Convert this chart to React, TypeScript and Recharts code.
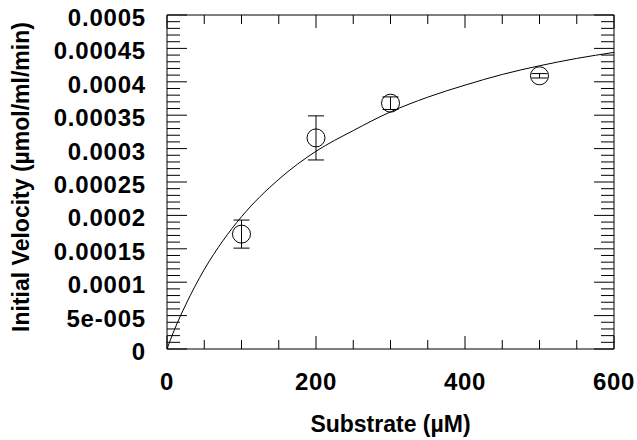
import React from "react";
import {
  ComposedChart,
  Line,
  Scatter,
  ErrorBar,
  XAxis,
  YAxis,
  ReferenceLine,
} from "recharts";

// measured points (mean +/- error)
const substrate = [100, 200, 300, 500];
const velocity = [0.000172, 0.000316, 0.000368, 0.000409];
const velocityErr = [0.000021, 0.000033, 0.0000094, 0.0000033];

// fitted curve
const fitSubstrate = [0, 10, 25, 50, 75, 100, 150, 200, 250, 300, 350, 400, 450, 500, 550, 600];
const fitVelocity = [
  0, 0.000029, 0.000066, 0.000119, 0.000162, 0.000198, 0.000254, 0.000296,
  0.000327, 0.000355, 0.000377, 0.000395, 0.000411, 0.000424, 0.000435, 0.000444,
];

const xTickLabels = ["0", "200", "400", "600"];
const yTickLabels = [
  "0", "5e-005", "0.0001", "0.00015", "0.0002", "0.00025",
  "0.0003", "0.00035", "0.0004", "0.00045", "0.0005",
];

const points = substrate.map((s, i) => ({ s, v: velocity[i], err: velocityErr[i] }));
const curve = fitSubstrate.map((s, i) => ({ s, v: fitVelocity[i] }));

// minor ticks every 50 on x, every 1e-5 on y
const xTicks = Array.from({ length: 13 }, (_, i) => i * 50);
const yTicks = Array.from({ length: 51 }, (_, i) => i * 0.00001);

const W = 637;
const H = 440;
const PL = 167; // plot left
const PR = 614; // plot right
const PT = 15; // plot top
const PB = 349; // plot bottom

const FONT = '"Liberation Sans", Arial, sans-serif';

const XTick = (props: any) => {
  const x = props.payload.coordinate;
  const major = props.index % 4 === 0;
  const len = major ? 13 : 9;
  return (
    <g>
      <line x1={x} x2={x} y1={PB} y2={PB - len} stroke="#000" />
      <line x1={x} x2={x} y1={PT} y2={PT + len} stroke="#000" />
      {major && (
        <text x={x} y={PB + 41} textAnchor="middle" fontFamily={FONT} fontWeight="bold" fontSize={24} letterSpacing={0.7} fill="#000">
          {xTickLabels[props.index / 4]}
        </text>
      )}
    </g>
  );
};

const YTick = (props: any) => {
  const y = props.payload.coordinate;
  const major = props.index % 5 === 0;
  const len = major ? 20 : 13;
  return (
    <g>
      <line x1={PL} x2={PL + len} y1={y} y2={y} stroke="#000" />
      <line x1={PR} x2={PR - len} y1={y} y2={y} stroke="#000" />
      {major && (
        <text x={146} y={y + 11} textAnchor="end" fontFamily={FONT} fontWeight="bold" fontSize={24} letterSpacing={0.8} fill="#000">
          {yTickLabels[props.index / 5]}
        </text>
      )}
    </g>
  );
};

const Ring = (props: any) => (
  <circle cx={props.cx} cy={props.cy} r={9} fill="none" stroke="#000" strokeWidth={1} />
);

export default function App() {
  return (
    <div style={{ position: "absolute", left: 0, top: 0, width: W, height: H, background: "#fff" }}>
      <ComposedChart width={W} height={H} margin={{ top: PT, right: W - PR, left: 0, bottom: 0 }}>
        <XAxis
          type="number"
          dataKey="s"
          domain={[0, 600]}
          ticks={xTicks}
          interval={0}
          height={H - PB}
          tickLine={false}
          axisLine={{ stroke: "#000" }}
          tick={<XTick />}
          label={{
            content: () => (
              <text x={(PL + PR) / 2} y={432} textAnchor="middle" fontFamily={FONT} fontWeight="bold" fontSize={23} fill="#000">
                Substrate (µM)
              </text>
            ),
          }}
        />
        <YAxis
          type="number"
          dataKey="v"
          domain={[0, 0.0005]}
          ticks={yTicks}
          interval={0}
          width={PL}
          tickLine={false}
          axisLine={{ stroke: "#000" }}
          tick={<YTick />}
          label={{
            content: () => (
              <text
                x={29}
                y={177}
                transform="rotate(-90, 29, 177)"
                textAnchor="middle"
                fontFamily={FONT}
                fontWeight="bold"
                fontSize={23}
                fill="#000"
              >
                Initial Velocity (µmol/ml/min)
              </text>
            ),
          }}
        />
        <ReferenceLine y={0.0005} stroke="#000" />
        <ReferenceLine x={600} stroke="#000" />
        <Line
          data={curve}
          dataKey="v"
          type="monotone"
          stroke="#000"
          strokeWidth={1}
          dot={false}
          activeDot={false}
          isAnimationActive={false}
        />
        <Scatter data={points} dataKey="v" shape={<Ring />} isAnimationActive={false}>
          <ErrorBar dataKey="err" direction="y" width={8} stroke="#000" strokeWidth={1} />
        </Scatter>
      </ComposedChart>
    </div>
  );
}
